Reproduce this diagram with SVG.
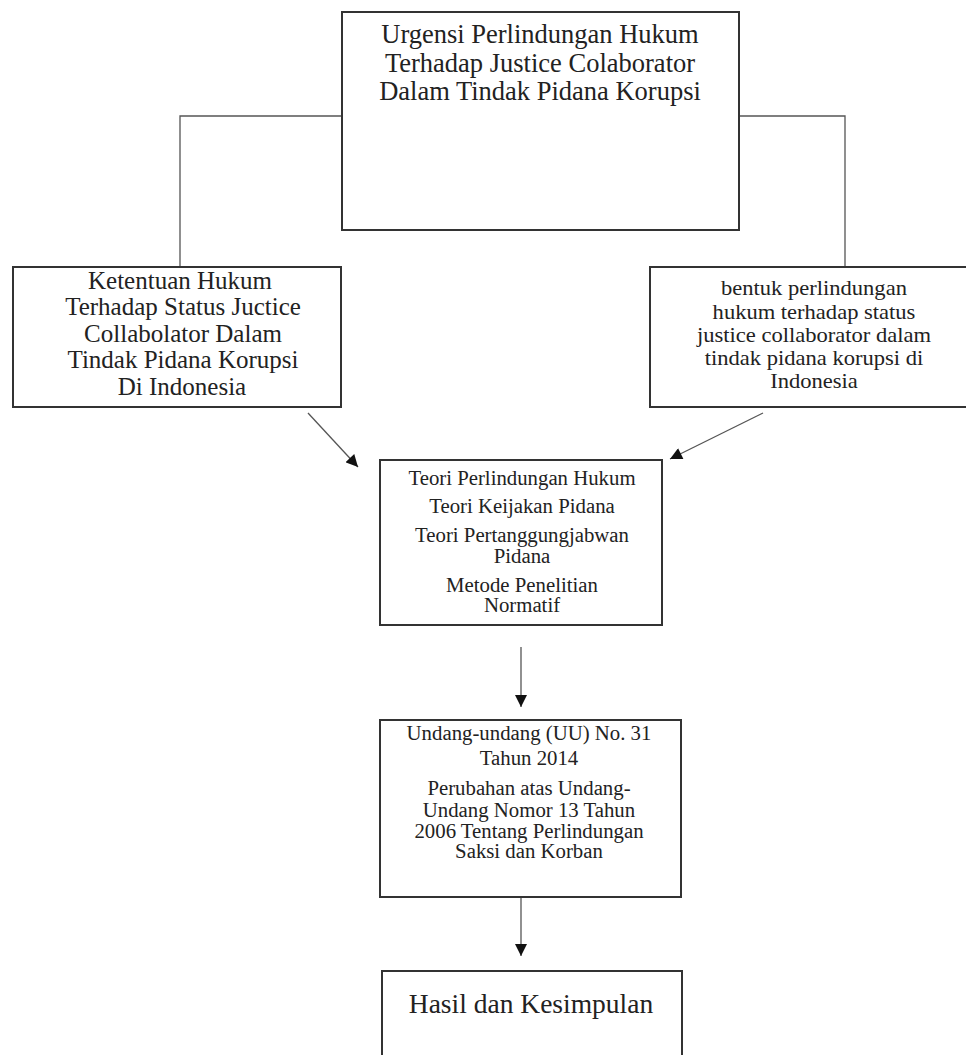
<svg xmlns="http://www.w3.org/2000/svg" width="966" height="1055" viewBox="0 0 966 1055">
<style>
.box{fill:#fff;stroke:#333;stroke-width:2}
.conn{fill:none;stroke:#555;stroke-width:1.3}
text{font-family:"Liberation Serif","Times New Roman",serif;fill:#222;text-anchor:middle}
.t1{font-size:26.5px}
.t2{font-size:25px}
.t3{font-size:20.5px}
.t4{font-size:20px}
.t5{font-size:27.5px}
</style>
<defs>
<marker id="ah" viewBox="0 0 10 10" refX="10" refY="5" markerWidth="13" markerHeight="12" markerUnits="userSpaceOnUse" orient="auto">
<path d="M0,0 L10,5 L0,10 z" fill="#111"/>
</marker>
</defs>
<rect width="966" height="1055" fill="#fff"/>
<g id="connectors">
<polyline class="conn" points="342,116 180,116 180,267"/>
<polyline class="conn" points="739,116 845,116 845,267"/>
<line class="conn" x1="308" y1="413" x2="358" y2="467" marker-end="url(#ah)"/>
<line class="conn" x1="763" y1="413" x2="670" y2="459" marker-end="url(#ah)"/>
<line class="conn" x1="521" y1="647" x2="521" y2="707" marker-end="url(#ah)"/>
<line class="conn" x1="521" y1="897" x2="521" y2="956" marker-end="url(#ah)"/>
</g>
<g id="node-top">
<rect class="box" x="342" y="12" width="397" height="218"/>
<text class="t1" x="540" y="43">Urgensi Perlindungan Hukum</text>
<text class="t1" x="540" y="72">Terhadap Justice Colaborator</text>
<text class="t1" x="540" y="100">Dalam Tindak Pidana Korupsi</text>
</g>
<g id="node-left">
<rect class="box" x="13" y="267" width="328" height="140"/>
<text class="t2" x="180" y="289">Ketentuan Hukum</text>
<text class="t2" x="183" y="315">Terhadap Status Juctice</text>
<text class="t2" x="183" y="342">Collabolator Dalam</text>
<text class="t2" x="183" y="368">Tindak Pidana Korupsi</text>
<text class="t2" x="182" y="395">Di Indonesia</text>
</g>
<g id="node-right">
<rect class="box" x="650" y="267" width="320" height="140"/>
<g transform="translate(814,0) scale(1.1,1) translate(-814,0)">
<text class="t3" x="814" y="295">bentuk perlindungan</text>
<text class="t3" x="814" y="319">hukum terhadap status</text>
<text class="t3" x="814" y="342">justice collaborator dalam</text>
<text class="t3" x="814" y="365">tindak pidana korupsi di</text>
<text class="t3" x="814" y="388">Indonesia</text>
</g>
</g>
<g id="node-theory">
<rect class="box" x="380" y="460" width="282" height="165"/>
<g transform="translate(522,0) scale(1.04,1) translate(-522,0)">
<text class="t4" x="522" y="485">Teori Perlindungan Hukum</text>
<text class="t4" x="522" y="513">Teori Keijakan Pidana</text>
<text class="t4" x="522" y="542">Teori Pertanggungjabwan</text>
<text class="t4" x="522" y="563">Pidana</text>
<text class="t4" x="522" y="592">Metode Penelitian</text>
<text class="t4" x="522" y="612">Normatif</text>
</g>
</g>
<g id="node-law">
<rect class="box" x="380" y="720" width="301" height="177"/>
<g transform="translate(529,0) scale(1.04,1) translate(-529,0)">
<text class="t4" x="529" y="740">Undang-undang (UU) No. 31</text>
<text class="t4" x="529" y="765">Tahun 2014</text>
<text class="t4" x="529" y="795">Perubahan atas Undang-</text>
<text class="t4" x="529" y="817">Undang Nomor 13 Tahun</text>
<text class="t4" x="529" y="838">2006 Tentang Perlindungan</text>
<text class="t4" x="529" y="858">Saksi dan Korban</text>
</g>
</g>
<g id="node-result">
<rect class="box" x="382" y="971" width="300" height="95"/>
<text class="t5" x="531" y="1013">Hasil dan Kesimpulan</text>
</g>
</svg>
